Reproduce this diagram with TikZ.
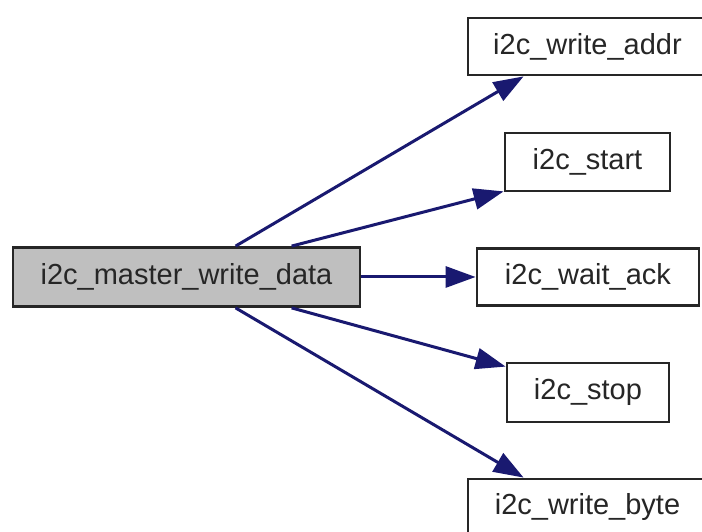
\documentclass[tikz,border=0pt]{standalone}
\usepackage{fontspec}
\setmainfont{Liberation Sans}
\usetikzlibrary{arrows.meta}
\definecolor{edgeblue}{RGB}{25,25,112}
\definecolor{boxgray}{RGB}{191,191,191}
\begin{document}
\begin{tikzpicture}[x=1pt,y=1pt,
  fbox/.style={draw=black!85, line width=2.8pt, inner sep=0pt, font=\fontsize{29}{34}\selectfont, text=black!85},
  callarrow/.style={draw=edgeblue, line width=3pt, -{Triangle[length=30pt,width=21pt]}}]
\clip (0,0) rectangle (702,532);
\fill[white] (0,0) rectangle (702,532);
\node[fbox, fill=boxgray, minimum width=347pt, minimum height=59pt] (main) at (186.5,255) {i2c\_master\_write\_data};
\node[fbox, fill=white, minimum width=239pt, minimum height=57pt] (addr) at (587.5,485.5) {i2c\_write\_addr};
\node[fbox, fill=white, minimum width=165pt, minimum height=58pt] (start) at (587.5,370) {i2c\_start};
\node[fbox, fill=white, minimum width=222pt, minimum height=57pt] (wait) at (588,255) {i2c\_wait\_ack};
\node[fbox, fill=white, minimum width=162pt, minimum height=59pt] (stop) at (588,139.5) {i2c\_stop};
\node[fbox, fill=white, minimum width=239pt, minimum height=57pt] (byte) at (587.5,24.5) {i2c\_write\_byte};
\draw[callarrow] ([xshift=224pt]main.north west) -- ([xshift=57pt]addr.south west);
\draw[callarrow] ([xshift=280pt]main.north west) -- ([yshift=1pt]start.south west);
\draw[callarrow] (main.east) -- (wait.west);
\draw[callarrow] ([xshift=280pt]main.south west) -- ([yshift=-5pt]stop.north west);
\draw[callarrow] ([xshift=224pt]main.south west) -- ([xshift=57pt]byte.north west);
\end{tikzpicture}
\end{document}
